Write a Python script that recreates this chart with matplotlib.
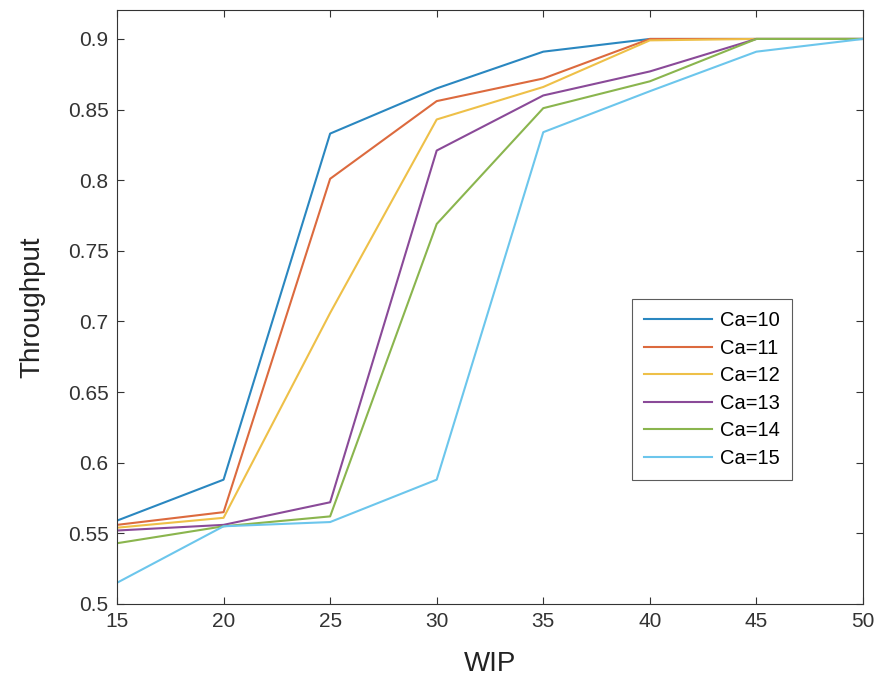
import matplotlib
matplotlib.use("Agg")
import matplotlib.pyplot as plt

wip = [15, 20, 25, 30, 35, 40, 45, 50]
labels = ["Ca=10", "Ca=11", "Ca=12", "Ca=13", "Ca=14", "Ca=15"]
ca10 = [0.559, 0.588, 0.833, 0.865, 0.891, 0.900, 0.900, 0.900]
ca11 = [0.556, 0.565, 0.801, 0.856, 0.872, 0.900, 0.900, 0.900]
ca12 = [0.554, 0.561, 0.706, 0.843, 0.866, 0.899, 0.900, 0.900]
ca13 = [0.552, 0.556, 0.572, 0.821, 0.860, 0.877, 0.900, 0.900]
ca14 = [0.543, 0.555, 0.562, 0.769, 0.851, 0.870, 0.900, 0.900]
ca15 = [0.515, 0.555, 0.558, 0.588, 0.834, 0.863, 0.891, 0.900]
series = [ca10, ca11, ca12, ca13, ca14, ca15]
colors = ["#2a87c0", "#dc6a3e", "#eec048", "#8a4a98", "#8ab54e", "#6cc6ec"]

plt.rcParams["font.family"] = "Liberation Sans"

fig = plt.figure(figsize=(8.77, 6.8), dpi=100)
ax = fig.add_axes([0.1334, 0.1118, 0.8506, 0.8735])

for vals, lab, c in zip(series, labels, colors):
    ax.plot(wip, vals, color=c, lw=1.5, label=lab)

ax.set_xlim(15, 50)
ax.set_ylim(0.5, 0.9205)
ax.set_xticks(wip)
ax.set_yticks([0.5, 0.55, 0.6, 0.65, 0.7, 0.75, 0.8, 0.85, 0.9])
ax.set_yticklabels(["0.5", "0.55", "0.6", "0.65", "0.7", "0.75", "0.8", "0.85", "0.9"])
ax.tick_params(direction="in", top=True, right=True, labelsize=15,
               colors="#333333", length=5, width=0.8, pad=6)
for s in ax.spines.values():
    s.set_color("#333333")
    s.set_linewidth(0.8)

ax.set_xlabel("WIP", fontsize=20, color="#222222", labelpad=14)
ax.set_ylabel("Throughput", fontsize=20, color="#222222", labelpad=16)

leg = ax.legend(loc="lower right", bbox_to_anchor=(0.905, 0.209), fontsize=14.5,
                frameon=True, fancybox=False, handlelength=3.4,
                borderpad=0.6, labelspacing=0.42, handletextpad=0.4,
                borderaxespad=0)
leg.get_frame().set_edgecolor("#333333")
leg.get_frame().set_linewidth(0.8)

fig.savefig("out.png", dpi=100)
